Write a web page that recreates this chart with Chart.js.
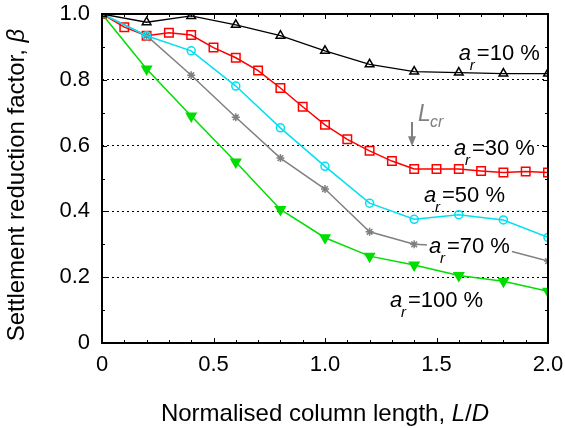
<!DOCTYPE html>
<html>
<head>
<meta charset="utf-8">
<script src="https://cdn.jsdelivr.net/npm/chart.js@4"></script>
<style>
  html, body { margin: 0; padding: 0; background: #fff; }
  #wrap { width: 565px; height: 428px; }
</style>
</head>
<body>
<div id="wrap"><canvas id="lineChart" width="565" height="428"></canvas></div>
<script>
// column length L/D
const lengths = [0, 0.2, 0.4, 0.6, 0.8, 1.0, 1.2, 1.4, 1.6, 1.8, 2.0];
const lengthsFine = [0, 0.1, 0.2, 0.3, 0.4, 0.5, 0.6, 0.7, 0.8, 0.9, 1.0,
  1.1, 1.2, 1.3, 1.4, 1.5, 1.6, 1.7, 1.8, 1.9, 2.0];

// settlement reduction factor for each area ratio
const ar10 = [1.0, 0.975, 0.994, 0.967, 0.934, 0.888, 0.847, 0.825, 0.822, 0.819, 0.819];
const ar30 = [1.0, 0.96, 0.934, 0.943, 0.936, 0.898, 0.867, 0.828, 0.775, 0.718, 0.663,
  0.619, 0.584, 0.553, 0.529, 0.529, 0.529, 0.523, 0.518, 0.521, 0.518];
const ar50 = [1.0, 0.934, 0.888, 0.781, 0.654, 0.537, 0.425, 0.376, 0.39, 0.374, 0.321];
const ar70 = [1.0, 0.934, 0.814, 0.686, 0.562, 0.468, 0.338, 0.3, 0.293, 0.285, 0.249];
const ar100 = [1.0, 0.833, 0.69, 0.55, 0.406, 0.32, 0.264, 0.237, 0.205, 0.188, 0.157];

const xTicks = [0, 0.5, 1.0, 1.5, 2.0];
const yTicks = [0, 0.2, 0.4, 0.6, 0.8, 1.0];

const FONT = '"Liberation Sans", Arial, sans-serif';

function pts(xs, ys) {
  return xs.map((x, i) => ({ x: x, y: ys[i] }));
}

// labels on the curves (anchor in data units, text value)
const curveLabels = [
  { x: 1.60, y: 0.860, text: '10' },
  { x: 1.578, y: 0.571, text: '30' },
  { x: 1.444, y: 0.429, text: '50' },
  { x: 1.466, y: 0.274, text: '70' },
  { x: 1.291, y: 0.109, text: '100' }
];

const framePlugin = {
  id: 'frame',
  afterDatasetsDraw(chart) {
    const ctx = chart.ctx;
    const a = chart.chartArea;
    const xs = chart.scales.x, ys = chart.scales.y;
    ctx.save();

    // inside ticks every 0.1
    ctx.strokeStyle = '#000';
    ctx.lineWidth = 1;
    ctx.beginPath();
    for (let i = 0; i <= 20; i++) {
      const px = Math.round(xs.getPixelForValue(i / 10)) + 0.5;
      const len = i % 5 === 0 ? 5 : 3;
      ctx.moveTo(px, a.bottom); ctx.lineTo(px, a.bottom - len);
      ctx.moveTo(px, a.top); ctx.lineTo(px, a.top + len);
    }
    for (let i = 0; i <= 10; i++) {
      const py = Math.round(ys.getPixelForValue(i / 10)) + 0.5;
      const len = i % 2 === 0 ? 5 : 3;
      ctx.moveTo(a.left, py); ctx.lineTo(a.left + len, py);
      ctx.moveTo(a.right, py); ctx.lineTo(a.right - len, py);
    }
    ctx.stroke();

    // frame
    ctx.lineWidth = 2;
    ctx.strokeRect(a.left, a.top, a.right - a.left, a.bottom - a.top);

    // curve labels with white boxes
    curveLabels.forEach(l => {
      const x = xs.getPixelForValue(l.x);
      const y = ys.getPixelForValue(l.y);
      ctx.font = '22px ' + FONT;
      const rest = '=' + l.text + ' %';
      const w = 18 + ctx.measureText(rest).width;
      ctx.fillStyle = '#fff';
      ctx.fillRect(x - 2, y - 17, w + 4, 22);
      ctx.fillStyle = '#000';
      ctx.textBaseline = 'alphabetic';
      ctx.textAlign = 'left';
      ctx.font = 'italic 22px ' + FONT;
      ctx.fillText('a', x, y);
      ctx.font = 'italic 15px ' + FONT;
      ctx.fillText('r', x + 11, y + 10);
      ctx.font = '22px ' + FONT;
      ctx.fillText(rest, x + 18, y);
    });

    // L_cr marker
    const ax = Math.round(xs.getPixelForValue(1.39));
    const ay0 = ys.getPixelForValue(0.672);
    const ay1 = ys.getPixelForValue(0.598);
    ctx.strokeStyle = '#808080';
    ctx.fillStyle = '#808080';
    ctx.lineWidth = 2;
    ctx.beginPath();
    ctx.moveTo(ax, ay0); ctx.lineTo(ax, ay1 - 8);
    ctx.stroke();
    ctx.beginPath();
    ctx.moveTo(ax - 4, ay1 - 10); ctx.lineTo(ax + 4, ay1 - 10); ctx.lineTo(ax, ay1);
    ctx.closePath();
    ctx.fill();
    const lx = xs.getPixelForValue(1.417);
    const ly = ys.getPixelForValue(0.675);
    ctx.font = 'italic 23px ' + FONT;
    ctx.fillText('L', lx, ly);
    ctx.font = 'italic 16px ' + FONT;
    ctx.fillText('cr', lx + 12, ly + 6);

    ctx.restore();
  },
  afterDraw(chart) {
    const ctx = chart.ctx;
    const a = chart.chartArea;
    ctx.save();
    ctx.fillStyle = '#000';
    ctx.textBaseline = 'alphabetic';

    // x axis title
    const parts = [
      ['Normalised column length, ', ''],
      ['L', 'italic '],
      ['/', ''],
      ['D', 'italic ']
    ];
    let total = 0;
    parts.forEach(p => { ctx.font = p[1] + '24px ' + FONT; total += ctx.measureText(p[0]).width; });
    let x = 325 - total / 2;
    parts.forEach(p => {
      ctx.font = p[1] + '24px ' + FONT;
      ctx.fillText(p[0], x, 421);
      x += ctx.measureText(p[0]).width;
    });

    // y axis title
    const yparts = [
      ['Settlement reduction factor, ', ''],
      ['\u03B2', 'italic ']
    ];
    total = 0;
    yparts.forEach(p => { ctx.font = p[1] + '24px ' + FONT; total += ctx.measureText(p[0]).width; });
    ctx.translate(24, 185);
    ctx.rotate(-Math.PI / 2);
    let yx = -total / 2;
    yparts.forEach(p => {
      ctx.font = p[1] + '24px ' + FONT;
      ctx.fillText(p[0], yx, 0);
      yx += ctx.measureText(p[0]).width;
    });
    ctx.restore();
  }
};

function series(data, color, style, radius, extra) {
  return Object.assign({
    data: data,
    borderColor: color,
    backgroundColor: color,
    borderWidth: 1.5,
    pointStyle: style,
    pointRadius: radius,
    pointHoverRadius: radius,
    pointBorderColor: color,
    pointBackgroundColor: 'rgba(0,0,0,0)',
    pointBorderWidth: 1.5,
    tension: 0,
    clip: 0
  }, extra || {});
}

var ctx = document.getElementById('lineChart').getContext('2d');
var chart = new Chart(ctx, {
  type: 'line',
  data: {
    datasets: [
      series(pts(lengths, ar10), '#000000', 'triangle', 5, { borderWidth: 1.3 }),
      series(pts(lengths, ar50), '#00e0f0', 'circle', 4),
      series(pts(lengths, ar70), '#808080', 'star', 4),
      series(pts(lengths, ar100), '#00dd00', 'triangle', 5.5, { pointRotation: 180, pointBackgroundColor: '#00dd00' }),
      series(pts(lengthsFine, ar30), '#ff0000', 'rect', 6)
    ]
  },
  options: {
    responsive: false,
    animation: false,
    events: [],
    layout: { padding: { left: 0, right: 17, top: 14, bottom: 0 } },
    plugins: { legend: { display: false }, tooltip: { enabled: false } },
    scales: {
      x: {
        type: 'linear',
        min: 0,
        max: 2,
        afterBuildTicks: s => { s.ticks = xTicks.map(v => ({ value: v })); },
        afterFit: s => {
          s.height = 428 - 343;
          s.paddingLeft = 0;
          s.paddingRight = 0;
        },
        grid: { display: false, drawTicks: false },
        border: { display: false },
        ticks: {
          padding: 9,
          color: '#000',
          font: { family: FONT, size: 22 },
          maxRotation: 0,
          callback: v => v === 0 ? '0' : v.toFixed(1)
        }
      },
      y: {
        type: 'linear',
        min: 0,
        max: 1,
        afterBuildTicks: s => { s.ticks = yTicks.map(v => ({ value: v })); },
        afterFit: s => {
          s.width = 102;
          s.paddingTop = 0;
          s.paddingBottom = 0;
        },
        grid: {
          drawTicks: false,
          color: c => (c.tick && c.tick.value > 0.01 && c.tick.value < 0.99) ? '#000' : 'rgba(0,0,0,0)',
          lineWidth: 1
        },
        border: { display: false, dash: [2, 3] },
        ticks: {
          padding: 12,
          color: '#000',
          font: { family: FONT, size: 22 },
          callback: v => v === 0 ? '0' : v.toFixed(1)
        }
      }
    }
  },
  plugins: [framePlugin]
});
</script>
</body>
</html>
